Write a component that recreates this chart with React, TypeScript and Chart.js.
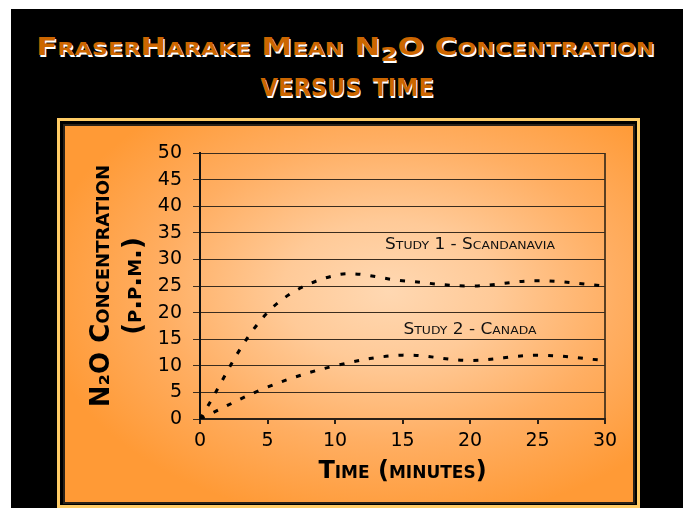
import { useEffect, useRef } from 'react';
import { Chart, registerables } from 'chart.js';

Chart.register(...registerables);

// ---- data ----
const timeMinutes = [0, 5, 10, 15, 20, 25, 30];
const study1Scandanavia = [0, 20, 27, 26, 25, 26, 25];
const study2Canada = [0, 6, 10, 12, 11, 12, 11];
const seriesNames = ['Study 1 - Scandanavia', 'Study 2 - Canada'];
const seriesLabelX = [20, 20];
const seriesLabelY = [32.6, 16.7];
const yMin = 0;
const yMax = 50;
const yStep = 5;
const xMin = 0;
const xMax = 30;
const xStep = 5;
const titleLine1 = ['FraserHarake Mean N', '2', 'O Concentration'];
const titleLine2 = 'versus time';
const yTitle = ['N\u2082O Concentration', '(p.p.m.)'];
const xTitle = 'Time (minutes)';

const seriesLabelPlugin = {
  id: 'seriesLabels',
  afterDatasetsDraw(chart: any) {
    const { ctx, scales } = chart;
    const x = scales.x;
    const y = scales.y;
    ctx.save();
    ctx.font = 'small-caps 15px "DejaVu Sans"';
    ctx.fillStyle = '#111';
    ctx.textAlign = 'center';
    ctx.textBaseline = 'middle';
    chart.data.datasets.forEach((ds: any, i: number) => {
      const px = x.getPixelForValue(seriesLabelX[i]);
      const py = y.getPixelForValue(seriesLabelY[i]);
      ctx.save();
      ctx.translate(px, py);
      ctx.scale(1.13, 1);
      ctx.fillText(ds.label, 0, 0);
      ctx.restore();
    });
    ctx.restore();
  },
};

function ChartBox() {
  const ref = useRef<HTMLCanvasElement | null>(null);
  useEffect(() => {
    if (!ref.current) return;
    const line = (i: number, values: number[]) => ({
      label: seriesNames[i],
      data: timeMinutes.map((t, k) => ({ x: t, y: values[k] })),
      borderColor: '#000',
      borderWidth: 3,
      borderDash: [5, 10],
      borderCapStyle: 'butt',
      tension: 0.35,
      pointRadius: 0,
      fill: false,
    });
    const chart = new Chart(ref.current, {
      type: 'line',
      data: { datasets: [line(0, study1Scandanavia), line(1, study2Canada)] as any },
      options: {
        animation: false,
        responsive: false,
        devicePixelRatio: 1,
        layout: { padding: { top: 27, right: 28, left: 0, bottom: 0 } },
        plugins: { legend: { display: false }, tooltip: { enabled: false } },
        scales: {
          x: {
            type: 'linear',
            min: xMin,
            max: xMax,
            afterFit: (s: any) => { s.height = 83; },
            ticks: {
              stepSize: xStep,
              color: '#000',
              padding: 6,
              font: { family: '"DejaVu Sans"', size: 19 },
            },
            grid: {
              drawOnChartArea: true,
              color: (c: any) => (c.tick && c.tick.value === xMax ? '#5a3f22' : 'rgba(0,0,0,0)'),
              lineWidth: 2,
              tickColor: '#2b2016',
              tickLength: 5,
            },
            border: { display: true, color: '#2b2016', width: 2 },
            title: {
              display: true,
              text: xTitle,
              color: '#000',
              font: { family: '"DejaVu Sans"', size: 24, weight: 'small-caps bold' as any, lineHeight: 1.2 },
              padding: { top: 0, bottom: 16 },
            },
          },
          y: {
            min: yMin,
            max: yMax,
            afterFit: (s: any) => { s.width = 135; },
            ticks: {
              stepSize: yStep,
              color: '#000',
              padding: 11,
              font: { family: '"DejaVu Sans"', size: 19 },
            },
            grid: {
              color: '#3a2c1e',
              lineWidth: 1,
              tickColor: '#3a2c1e',
              tickLength: 7,
            },
            border: { display: true, color: '#111', width: 2 },
            title: {
              display: true,
              text: yTitle,
              color: '#000',
              font: { family: '"DejaVu Sans"', size: 26, weight: 'small-caps bold' as any, lineHeight: '32px' as any },
              padding: { top: 21, bottom: 0 },
            },
          },
        },
      },
      plugins: [seriesLabelPlugin],
    });
    return () => chart.destroy();
  }, []);
  return <canvas ref={ref} width={568} height={376} style={{ display: 'block', width: 568, height: 376 }} />;
}

export default function App() {
  return (
    <div style={{ position: 'absolute', left: 0, top: 0, width: 686, height: 508, overflow: 'hidden', background: '#fff' }}>
      <div style={{ position: 'absolute', left: 11, top: 9, width: 672, height: 499, background: '#000' }} />
      <div
        style={{
          position: 'absolute', left: 0, top: 34, width: 690, textAlign: 'center', whiteSpace: 'nowrap',
          fontFamily: '"DejaVu Sans"', fontWeight: 'bold', fontSize: 25, fontVariant: 'small-caps',
          color: '#cc6600', textShadow: '1px 2px 0 #fff', lineHeight: 1,
        }}
      >
        <span style={{ display: 'inline-block', transform: 'scaleX(1.24)' }}>
          {titleLine1[0]}
          <sub style={{ fontSize: '0.8em', verticalAlign: '-0.3em', lineHeight: 0 }}>{titleLine1[1]}</sub>
          {titleLine1[2]}
        </span>
      </div>
      <div
        style={{
          position: 'absolute', left: 0, top: 67, width: 694, textAlign: 'center', whiteSpace: 'nowrap',
          fontFamily: '"DejaVu Sans"', fontWeight: 'bold', fontSize: 35, fontVariant: 'small-caps',
          color: '#cc6600', textShadow: '1px 2px 0 #fff', lineHeight: 1,
        }}
      >
        <span style={{ display: 'inline-block', transform: 'scaleX(0.9)' }}>{titleLine2}</span>
      </div>
      <div style={{ position: 'absolute', left: 57, top: 118, width: 577, height: 384, border: '3px solid #ffcc66', background: '#000' }} />
      <div
        style={{
          position: 'absolute', left: 63, top: 124, width: 568, height: 376, border: '2px solid #2a2218',
          background: 'radial-gradient(ellipse 62% 62% at 57% 44%, #ffd8b2 0%, #ffca98 30%, #ffae62 65%, #ff9a36 100%)',
        }}
      >
        <ChartBox />
      </div>
    </div>
  );
}
